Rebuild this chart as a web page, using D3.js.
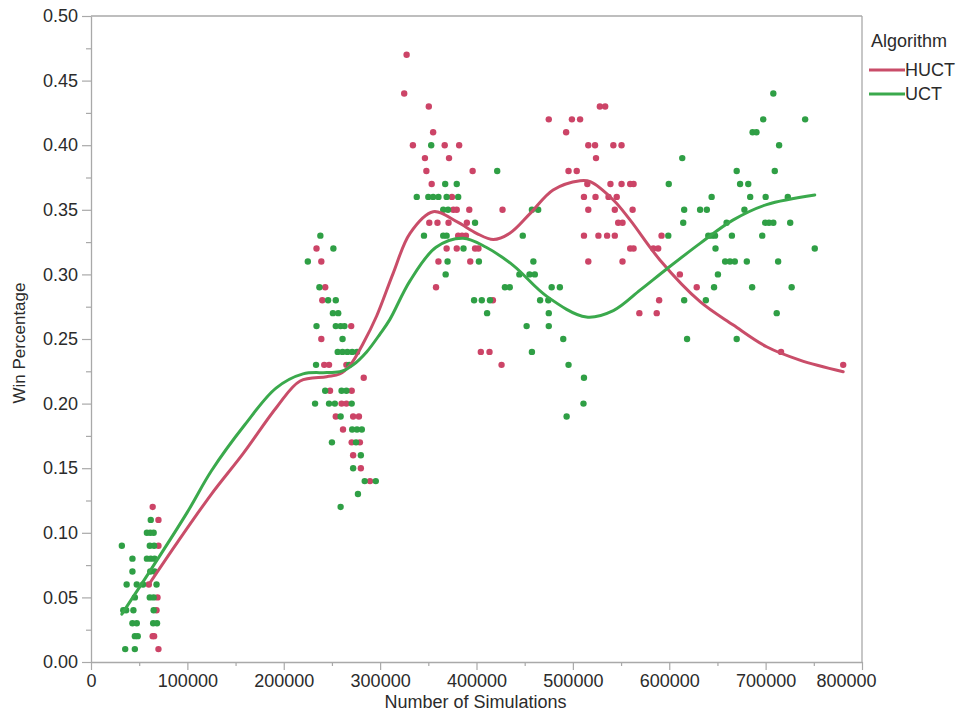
<!DOCTYPE html>
<html>
<head>
<meta charset="utf-8">
<script src="https://cdn.jsdelivr.net/npm/d3@7"></script>
<style>
  html, body { margin: 0; padding: 0; background: #fff; }
  svg text { font-family: "Liberation Sans", Arial, Helvetica, sans-serif; }
</style>
</head>
<body>
<svg id="chart" width="966" height="713"></svg>
<script>
// ---- data -------------------------------------------------------------
const seriesNames = ["HUCT", "UCT"];
const xTicks = [0, 100000, 200000, 300000, 400000, 500000, 600000, 700000, 800000];
const yTicks = [0, 0.05, 0.10, 0.15, 0.20, 0.25, 0.30, 0.35, 0.40, 0.45, 0.50];

// [simulations, win percentage] for each HUCT game batch
const huctPoints = [
  [64000,0.12],[70000,0.11],[70000,0.09],[60000,0.06],[69000,0.05],[68000,0.04],
  [64000,0.02],[65500,0.02],[70000,0.01],
  [234000,0.32],[239000,0.31],[243000,0.29],[240000,0.28],[270000,0.26],[239000,0.25],
  [242000,0.23],[247000,0.23],[265000,0.23],[283000,0.22],[248000,0.21],[270500,0.21],
  [260000,0.20],[265000,0.20],[254000,0.19],[272000,0.19],[278000,0.19],[261500,0.18],
  [270500,0.17],[279000,0.17],[272000,0.16],[280000,0.15],[289500,0.14],
  [327500,0.47],[325000,0.44],[350500,0.43],[355000,0.41],[334000,0.40],[367000,0.40],
  [382000,0.40],[346500,0.39],[371500,0.39],[348000,0.38],[396000,0.38],[353500,0.37],
  [374500,0.36],[376000,0.35],[379500,0.35],[392500,0.35],[427000,0.35],[351000,0.34],
  [359500,0.34],[371000,0.34],[390000,0.34],[381000,0.33],[385000,0.33],[389000,0.33],
  [369000,0.32],[379500,0.32],[398500,0.32],[402000,0.32],[360500,0.31],[393500,0.31],
  [358000,0.29],[417000,0.28],[404500,0.24],[413500,0.24],[426000,0.23],
  [475000,0.42],[499000,0.42],[507500,0.42],[493000,0.41],[528000,0.43],[533500,0.43],
  [516000,0.40],[523000,0.40],[542000,0.40],[550500,0.40],[524000,0.39],[495500,0.38],
  [504000,0.38],[515000,0.37],[539000,0.37],[550500,0.37],[559500,0.37],[563000,0.37],
  [511500,0.36],[523500,0.36],[537000,0.36],[545500,0.36],[516000,0.35],[543500,0.35],
  [562000,0.35],[547000,0.34],[551500,0.34],[511500,0.33],[526500,0.33],[535500,0.33],
  [543500,0.33],[592000,0.33],[559500,0.32],[563000,0.32],[583500,0.32],[588500,0.32],
  [516000,0.31],[551500,0.31],[569000,0.27],[587000,0.27],[589500,0.28],[611000,0.30],
  [628500,0.29],[716000,0.24],[780500,0.23]
];

// [simulations, win percentage] for each UCT game batch
const uctPoints = [
  [32000,0.09],[62000,0.11],[58000,0.10],[61500,0.10],[65000,0.10],[61000,0.09],
  [65500,0.09],[43000,0.08],[58000,0.08],[62000,0.08],[66000,0.08],[43000,0.07],
  [61500,0.07],[66000,0.07],[37000,0.06],[47500,0.06],[54000,0.06],[68000,0.06],
  [45500,0.05],[61000,0.05],[65000,0.05],[33500,0.04],[36500,0.04],[44000,0.04],
  [65000,0.04],[43000,0.03],[47500,0.03],[64500,0.03],[68500,0.03],[45500,0.02],
  [48500,0.02],[35500,0.01],[45500,0.01],
  [238000,0.33],[251500,0.32],[225000,0.31],[237000,0.29],[246000,0.28],[254000,0.28],
  [251000,0.27],[256500,0.27],[234000,0.26],[254000,0.26],[259000,0.26],[263000,0.26],
  [261000,0.25],[256000,0.24],[261000,0.24],[266000,0.24],[271000,0.24],[276000,0.24],
  [233500,0.23],[268000,0.23],[243000,0.21],[260000,0.21],[265000,0.21],[232500,0.20],
  [247000,0.20],[253000,0.20],[270500,0.20],[259000,0.19],[271000,0.18],[276000,0.18],
  [281000,0.18],[250000,0.17],[275000,0.17],[280000,0.16],[272000,0.15],[284000,0.14],
  [295500,0.14],[277000,0.13],[259000,0.12],
  [353000,0.40],[421500,0.38],[367500,0.37],[379500,0.37],[338000,0.36],[350000,0.36],
  [355000,0.36],[360500,0.36],[369000,0.36],[381000,0.36],[365500,0.35],[370500,0.35],
  [457500,0.35],[464000,0.35],[398500,0.34],[345500,0.33],[365500,0.33],[369000,0.33],
  [448000,0.33],[386500,0.32],[370000,0.31],[402500,0.31],[459000,0.31],[368000,0.30],
  [444500,0.30],[455000,0.30],[460500,0.30],[429500,0.29],[434500,0.29],[478000,0.29],
  [486500,0.29],[397500,0.28],[405500,0.28],[414000,0.28],[466000,0.28],[474500,0.28],
  [411000,0.27],[475000,0.27],[452000,0.26],[475000,0.26],[490000,0.25],[457500,0.24],
  [495500,0.23],[511500,0.22],[511000,0.20],[493500,0.19],
  [708000,0.44],[697500,0.42],[741000,0.42],[686500,0.41],[690500,0.41],[714000,0.40],
  [613500,0.39],[670000,0.38],[709500,0.38],[599500,0.37],[673500,0.37],[682000,0.37],
  [644000,0.36],[684000,0.36],[700000,0.36],[723000,0.36],[615500,0.35],[632000,0.35],
  [639000,0.35],[678000,0.35],[614500,0.34],[659500,0.34],[699500,0.34],[703500,0.34],
  [708000,0.34],[725500,0.34],[599000,0.33],[640500,0.33],[644000,0.33],[647500,0.33],
  [665000,0.33],[696500,0.33],[648000,0.32],[751000,0.32],[658000,0.31],[663000,0.31],
  [668000,0.31],[680500,0.31],[713000,0.31],[650500,0.30],[646500,0.29],[686000,0.29],
  [727000,0.29],[615500,0.28],[638000,0.28],[711500,0.27],[618500,0.25],[670000,0.25]
];

// smoothing-spline fits through each series
const huctFit = [
  [60000,0.060],[90000,0.093],[125000,0.130],[158000,0.1615],[193000,0.1976],
  [217000,0.2175],[244500,0.2208],[258000,0.2229],[269000,0.2299],[282500,0.2467],
  [296500,0.268],[313500,0.3008],[331000,0.3318],[355000,0.3485],[379500,0.3408],
  [400000,0.3318],[417500,0.327],[434500,0.3318],[455500,0.347],[479500,0.3653],
  [507500,0.3725],[518000,0.3718],[542000,0.3576],[559500,0.342],[590500,0.311],
  [632000,0.2789],[666500,0.2608],[701000,0.244],[735500,0.2337],[780500,0.2247]
];
const uctFit = [
  [32000,0.037],[60000,0.069],[100000,0.116],[125000,0.148],[160000,0.184],
  [192000,0.212],[220000,0.223],[245000,0.224],[260000,0.225],[272000,0.230],
  [286000,0.240],[300000,0.254],[310000,0.265],[331000,0.295],[358000,0.321],
  [386000,0.328],[410000,0.321],[438000,0.307],[473000,0.283],[514000,0.267],
  [542000,0.272],[570000,0.288],[597000,0.304],[632000,0.324],[666000,0.342],
  [701000,0.354],[751000,0.3615]
];

// ---- drawing ----------------------------------------------------------
const colors = {
  HUCT: { line: "#c94d69", dot: "#cc4467" },
  UCT:  { line: "#3aa94c", dot: "#2f9f45" }
};
const axisColor = "#a9a9a9";
const textColor = "#2b2b2b";
const fontSize = 18;

const plotLeft = 91, plotRight = 862, plotTop = 16, plotBottom = 662;
const svg = d3.select("#chart");

const x = d3.scaleLinear().domain([0, 800000]).range([plotLeft, plotRight]);
const y = d3.scaleLinear().domain([0, 0.5]).range([plotBottom, plotTop]);

// frame (top and right)
svg.append("line").attr("x1", plotLeft).attr("x2", plotRight).attr("y1", plotTop).attr("y2", plotTop)
  .attr("stroke", axisColor).attr("stroke-width", 1.3);
svg.append("line").attr("x1", plotRight).attr("x2", plotRight).attr("y1", plotTop).attr("y2", plotBottom)
  .attr("stroke", axisColor).attr("stroke-width", 1.3);

// minor ticks
const xMinor = d3.range(50000, 800000, 100000);
const yMinor = d3.range(0.025, 0.5, 0.05);
svg.append("g").attr("transform", `translate(0,${plotBottom})`)
  .call(d3.axisBottom(x).tickValues(xMinor).tickSize(4).tickFormat(""))
  .call(g => g.select(".domain").remove())
  .call(g => g.selectAll("line").attr("stroke", axisColor).attr("stroke-width", 1.2));
svg.append("g").attr("transform", `translate(${plotLeft},0)`)
  .call(d3.axisLeft(y).tickValues(yMinor).tickSize(5).tickFormat(""))
  .call(g => g.select(".domain").remove())
  .call(g => g.selectAll("line").attr("stroke", axisColor).attr("stroke-width", 1.2));

// major axes
const xAxis = svg.append("g").attr("transform", `translate(0,${plotBottom})`)
  .call(d3.axisBottom(x).tickValues(xTicks).tickSize(8).tickSizeOuter(0).tickPadding(4)
    .tickFormat(d3.format("d")));
const yAxis = svg.append("g").attr("transform", `translate(${plotLeft},0)`)
  .call(d3.axisLeft(y).tickValues(yTicks).tickSize(9).tickSizeOuter(0).tickPadding(4)
    .tickFormat(d3.format(".2f")));
[xAxis, yAxis].forEach(g => {
  g.select(".domain").attr("stroke", axisColor).attr("stroke-width", 1.3);
  g.selectAll(".tick line").attr("stroke", axisColor).attr("stroke-width", 1.2);
  g.selectAll(".tick text").attr("fill", textColor)
    .style("font-size", fontSize + "px")
    .style("font-family", "'Liberation Sans', Arial, sans-serif");
});
// keep the last x label clear of the legend column
xAxis.selectAll(".tick").filter(d => d === 800000).select("text")
  .attr("text-anchor", "end").attr("x", 14);

// axis titles
svg.append("text").attr("x", (plotLeft + plotRight) / 2 - 1).attr("y", 708)
  .attr("text-anchor", "middle").attr("fill", textColor)
  .style("font-size", fontSize + "px").text("Number of Simulations");
svg.append("text").attr("transform", "translate(25,343) rotate(-90)")
  .attr("text-anchor", "middle").attr("fill", textColor)
  .style("font-size", "17px").text("Win Percentage");

// scatter points
const plot = svg.append("g");
[["HUCT", huctPoints], ["UCT", uctPoints]].forEach(([name, pts]) => {
  plot.append("g").selectAll("circle").data(pts).join("circle")
    .attr("cx", d => x(d[0])).attr("cy", d => y(d[1])).attr("r", 3.2)
    .attr("fill", colors[name].dot);
});

// fitted curves
const line = d3.line().x(d => x(d[0])).y(d => y(d[1])).curve(d3.curveCatmullRom.alpha(0.5));
[["HUCT", huctFit], ["UCT", uctFit]].forEach(([name, fit]) => {
  plot.append("path").datum(fit).attr("d", line)
    .attr("fill", "none").attr("stroke", colors[name].line)
    .attr("stroke-width", 3).attr("stroke-linecap", "round");
});

// legend
const legend = svg.append("g");
legend.append("text").attr("x", 871).attr("y", 47).attr("fill", textColor)
  .style("font-size", fontSize + "px").text("Algorithm");
seriesNames.forEach((name, i) => {
  const ly = 70 + i * 24;
  legend.append("line").attr("x1", 869).attr("x2", 905).attr("y1", ly).attr("y2", ly)
    .attr("stroke", colors[name].line).attr("stroke-width", 3);
  legend.append("text").attr("x", 905).attr("y", ly + 6).attr("fill", textColor)
    .style("font-size", fontSize + "px").text(name);
});
</script>
</body>
</html>
